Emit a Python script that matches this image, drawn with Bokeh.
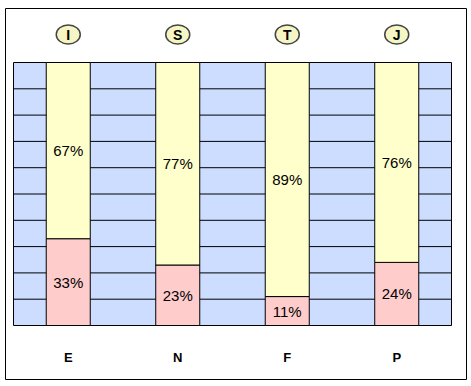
from bokeh.plotting import figure
from bokeh.models import Range1d, ColumnDataSource
from bokeh.core.properties import value
from bokeh.embed import file_html
from bokeh.resources import INLINE

# ---- data ----
bottom_letters = ["E", "N", "F", "P"]
top_letters = ["I", "S", "T", "J"]
bottom_pct = [33, 23, 11, 24]
top_pct = [67, 77, 89, 76]
grid_levels = [10, 20, 30, 40, 50, 60, 70, 80, 90]

# ---- layout constants ----
W, H = 471, 386
FRAME_L, FRAME_R, FRAME_T, FRAME_B = 5, 466, 8, 379   # outer border (px)
AREA_L, AREA_R, AREA_T, AREA_B = 13, 451, 62, 325     # plot area (px)
n = len(bottom_letters)
sx = (AREA_R - AREA_L) / n
sy = (AREA_B - AREA_T) / 100.0

x_range = Range1d((FRAME_L - AREA_L) / sx, n + (FRAME_R - AREA_R) / sx)
y_range = Range1d(-(FRAME_B - AREA_B) / sy, 100 + (AREA_T - FRAME_T) / sy)

p = figure(width=W, height=H, x_range=x_range, y_range=y_range,
           x_axis_type=None, y_axis_type=None,
           output_backend="svg", toolbar_location=None,
           min_border_left=FRAME_L, min_border_right=W - FRAME_R,
           min_border_top=FRAME_T, min_border_bottom=H - FRAME_B)
p.outline_line_color = "black"
p.outline_line_width = 1
p.background_fill_color = "white"
p.border_fill_color = "white"

xs = [i + 0.5 for i in range(n)]

# plot area background
p.quad(left=[0], right=[n], bottom=[0], top=[100],
       fill_color="#CCDDFF", line_color="black", line_width=1)

# horizontal grid lines
p.segment(x0=[0] * len(grid_levels), x1=[n] * len(grid_levels),
          y0=grid_levels, y1=grid_levels, line_color="black", line_width=1)

# stacked bars
src = ColumnDataSource(dict(
    x=xs, b=bottom_pct, t=top_pct,
    b_top=bottom_pct,
    t_top=[b + t for b, t in zip(bottom_pct, top_pct)],
    b_mid=[b / 2 for b in bottom_pct],
    t_mid=[b + t / 2 for b, t in zip(bottom_pct, top_pct)],
    b_lab=[f"{v}%" for v in bottom_pct],
    t_lab=[f"{v}%" for v in top_pct],
    bl=bottom_letters, tl=top_letters,
))
BAR_W = 0.402
p.vbar(x="x", bottom=0, top="b_top", width=BAR_W, source=src,
       fill_color="#FFCCCC", line_color="black", line_width=1)
p.vbar(x="x", bottom="b_top", top="t_top", width=BAR_W, source=src,
       fill_color="#FFFFCC", line_color="black", line_width=1)

# percent labels
p.text(x="x", y="b_mid", text="b_lab", source=src,
       text_align="center", text_baseline="middle",
       text_font=value("Liberation Sans"), text_font_size="15px",
       text_color="black")
p.text(x="x", y="t_mid", text="t_lab", source=src,
       text_align="center", text_baseline="middle",
       text_font=value("Liberation Sans"), text_font_size="15px",
       text_color="black")

# top circled letters
TOP_Y = 100 + (AREA_T - 34) / sy
p.ellipse(x="x", y=TOP_Y, width=24, height=19, width_units="screen",
          height_units="screen", source=src,
          fill_color="#F6F6C4", line_color="#444444", line_width=1.5)
p.text(x="x", y=TOP_Y, text="tl", source=src,
       text_align="center", text_baseline="middle",
       text_font=value("Liberation Sans"), text_font_size="14px",
       text_font_style="bold", text_color="black")

# bottom letters
BOT_Y = -(356.5 - AREA_B) / sy
p.text(x="x", y=BOT_Y, text="bl", source=src,
       text_align="center", text_baseline="middle",
       text_font=value("Liberation Sans"), text_font_size="13px",
       text_font_style="bold", text_color="black")

open("out.html", "w").write(file_html(p, INLINE))
